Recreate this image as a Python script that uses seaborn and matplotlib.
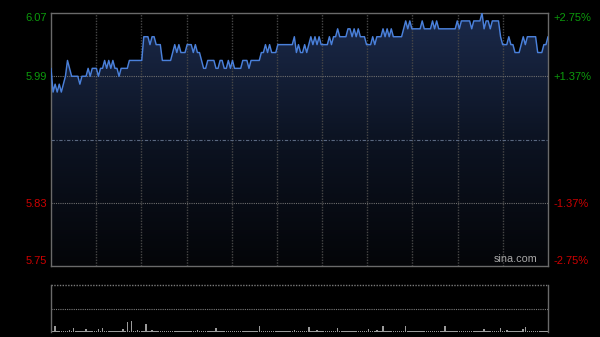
import numpy as np
import pandas as pd
import matplotlib
matplotlib.use("Agg")
import matplotlib.pyplot as plt
import seaborn as sns
from matplotlib.colors import LinearSegmentedColormap

# ---------------- data ----------------
prices = [
    6.00, 5.97, 5.98, 5.97, 5.98, 5.97, 5.98, 5.99, 6.01, 6.00, 5.99, 5.99, 5.99, 5.99, 5.98, 5.99, 5.99, 5.99, 6.00, 5.99,
    6.00, 6.00, 6.00, 5.99, 6.00, 6.00, 6.01, 6.00, 6.01, 6.00, 6.01, 6.00, 6.00, 5.99, 6.00, 6.00, 6.00, 6.00, 6.01, 6.01,
    6.01, 6.01, 6.01, 6.01, 6.01, 6.04, 6.04, 6.04, 6.03, 6.04, 6.04, 6.03, 6.03, 6.03, 6.01, 6.01, 6.01, 6.01, 6.01, 6.02,
    6.03, 6.02, 6.03, 6.02, 6.02, 6.02, 6.03, 6.03, 6.03, 6.02, 6.03, 6.02, 6.02, 6.01, 6.00, 6.00, 6.01, 6.01, 6.01, 6.01,
    6.00, 6.00, 6.01, 6.01, 6.00, 6.00, 6.01, 6.00, 6.01, 6.00, 6.00, 6.00, 6.00, 6.01, 6.01, 6.01, 6.00, 6.01, 6.01, 6.01,
    6.01, 6.01, 6.02, 6.02, 6.03, 6.02, 6.03, 6.02, 6.02, 6.02, 6.03, 6.03, 6.03, 6.03, 6.03, 6.03, 6.03, 6.03, 6.04, 6.02,
    6.03, 6.02, 6.02, 6.03, 6.02, 6.03, 6.04, 6.03, 6.04, 6.03, 6.04, 6.03, 6.03, 6.03, 6.03, 6.04, 6.03, 6.04, 6.04, 6.05,
    6.04, 6.04, 6.04, 6.04, 6.05, 6.05, 6.04, 6.05, 6.04, 6.05, 6.04, 6.04, 6.04, 6.03, 6.03, 6.03, 6.04, 6.03, 6.04, 6.04,
    6.04, 6.05, 6.04, 6.05, 6.04, 6.05, 6.04, 6.04, 6.04, 6.04, 6.04, 6.05, 6.06, 6.05, 6.06, 6.05, 6.05, 6.05, 6.05, 6.05,
    6.06, 6.05, 6.05, 6.05, 6.05, 6.06, 6.05, 6.06, 6.05, 6.05, 6.05, 6.05, 6.05, 6.05, 6.05, 6.05, 6.05, 6.06, 6.05, 6.06,
    6.06, 6.06, 6.06, 6.06, 6.05, 6.06, 6.06, 6.06, 6.06, 6.07, 6.05, 6.06, 6.06, 6.05, 6.06, 6.06, 6.06, 6.06, 6.04, 6.03,
    6.03, 6.03, 6.04, 6.03, 6.03, 6.02, 6.02, 6.02, 6.03, 6.04, 6.03, 6.04, 6.04, 6.04, 6.04, 6.04, 6.02, 6.02, 6.02, 6.03,
    6.03, 6.04,
]

volume = [
    67, 14, 60, 12, 10, 15, 9, 11, 13, 25, 12, 40, 10, 8, 14, 11, 9, 30, 12, 10,
    11, 9, 13, 30, 10, 40, 12, 8, 10, 14, 9, 11, 13, 8, 10, 30, 12, 100, 15, 110,
    14, 10, 25, 12, 9, 11, 77, 13, 10, 25, 9, 12, 8, 10, 14, 9, 11, 8, 12, 10,
    9, 13, 10, 8, 11, 12, 9, 10, 14, 8, 11, 25, 10, 9, 12, 8, 10, 13, 9, 11,
    40, 10, 8, 12, 9, 11, 10, 8, 13, 9, 10, 12, 8, 11, 9, 10, 14, 8, 10, 12,
    9, 57, 10, 8, 12, 9, 11, 10, 13, 8, 10, 9, 12, 8, 11, 10, 9, 13, 25, 10,
    8, 12, 9, 11, 10, 50, 14, 9, 11, 25, 10, 8, 12, 9, 11, 10, 13, 8, 10, 40,
    12, 9, 11, 8, 10, 13, 9, 11, 10, 8, 12, 9, 10, 11, 35, 9, 12, 8, 25, 10,
    9, 60, 11, 8, 12, 10, 9, 13, 8, 11, 10, 9, 57, 10, 12, 8, 11, 9, 10, 13,
    8, 10, 12, 9, 11, 8, 10, 13, 9, 11, 10, 57, 12, 8, 10, 9, 11, 13, 8, 10,
    12, 9, 11, 8, 10, 13, 9, 11, 8, 10, 30, 12, 9, 11, 10, 8, 12, 9, 40, 11,
    9, 20, 12, 8, 10, 13, 9, 11, 10, 30, 50, 12, 10, 14, 9, 15, 11, 13, 10, 12,
    14, 10,
]

left_values = [6.07, 5.99, 5.83, 5.75]
left_labels = ["6.07", "5.99", "5.83", "5.75"]
right_labels = ["+2.75%", "+1.37%", "-1.37%", "-2.75%"]
label_colors = ["#0c9a0c", "#0c9a0c", "#cc0000", "#cc0000"]
prev_close = 5.91
price_min, price_max = 5.75, 6.07
n_sections = 11
vol_top = 470

# ---------------- figure ----------------
sns.set_theme(style="dark")
plt.rcParams['font.family'] = ['Liberation Sans', 'DejaVu Sans']

W, H = 600, 337
fig = plt.figure(figsize=(W / 100, H / 100), dpi=100, facecolor='black')
ax = fig.add_axes([51 / W, 71 / H, 497 / W, 253 / H])
axv = fig.add_axes([51 / W, 5 / H, 497 / W, 47 / H])

t = np.arange(len(prices))
df = pd.DataFrame({"t": t, "price": prices})
n_last = len(prices) - 1

for a in (ax, axv):
    a.set_facecolor('black')
    a.grid(False)

# gradient fill under line
poly = ax.fill_between(df["t"], df["price"], price_min, facecolor='none', edgecolor='none')
cmap = LinearSegmentedColormap.from_list("fill", ["#040508", "#0c1322", "#1b2a4b"])
grad = np.linspace(0, 1, 256).reshape(-1, 1)
img = ax.imshow(grad, extent=[0, n_last, price_min, price_max], origin='lower',
                aspect='auto', cmap=cmap, zorder=1, interpolation='bilinear')
img.set_clip_path(poly.get_paths()[0], transform=ax.transData)

sns.lineplot(data=df, x="t", y="price", ax=ax, color="#4a80da", linewidth=1.05, zorder=4)

ax.set_xlim(0, n_last)
ax.set_ylim(price_min, price_max)

# grid lines
for k in range(1, n_sections):
    ax.axvline(n_last * k / n_sections, color="#474747", linestyle=(0, (1, 1)), linewidth=1, zorder=3)
for v in (left_values[1], left_values[2]):
    ax.axhline(v, color="#6e6e6e", linestyle=(0, (1, 1)), linewidth=0.8, zorder=3)
ax.axhline(prev_close, color="#5a6880", linestyle=(0, (3, 1.5, 1, 1.5)), linewidth=0.8, zorder=3)

for s in ax.spines.values():
    s.set_color("#6a6a6a")
    s.set_linewidth(1)
    s.set_visible(True)

ax.set_xticks([])
ax.set_xlabel("")
ax.set_ylabel("")
ax.set_yticks(left_values, left_labels)
ax.tick_params(axis='y', length=0, pad=3, labelsize=8)
for lab, c in zip(ax.get_yticklabels(), label_colors):
    lab.set_color(c)
ax.get_yticklabels()[0].set_va('top')
ax.get_yticklabels()[-1].set_va('bottom')

ax2 = ax.twinx()
ax2.set_ylim(price_min, price_max)
ax2.set_yticks(left_values, right_labels)
ax2.tick_params(axis='y', length=0, pad=4, labelsize=8)
for lab, c in zip(ax2.get_yticklabels(), label_colors):
    lab.set_color(c)
ax2.get_yticklabels()[0].set_va('top')
ax2.get_yticklabels()[-1].set_va('bottom')
for s in ax2.spines.values():
    s.set_visible(False)
ax2.grid(False)

ax.text(0.978, 0.008, "sina.com", transform=ax.transAxes, ha='right', va='bottom',
        color="#a8a8a8", fontsize=7.8, zorder=6)

# volume panel
vdf = pd.DataFrame({"t": t, "vol": volume})
sns.barplot(data=vdf, x="t", y="vol", ax=axv, native_scale=True, color="#9a9a9a",
            saturation=1, width=0.75, linewidth=0)
axv.set_xlim(0, n_last)
axv.set_ylim(0, vol_top)
axv.axhline(vol_top, color="#7a7a7a", linestyle=(0, (1, 1)), linewidth=1, clip_on=False)
axv.axhline(vol_top / 2, color="#7a7a7a", linestyle=(0, (1, 1)), linewidth=0.8)
for name, s in axv.spines.items():
    s.set_color("#6a6a6a")
    s.set_linewidth(1)
    s.set_visible(name in ("left", "right"))
axv.set_xticks([])
axv.set_yticks([])
axv.set_xlabel("")
axv.set_ylabel("")

fig.savefig("out.png", dpi=100, facecolor='black')
